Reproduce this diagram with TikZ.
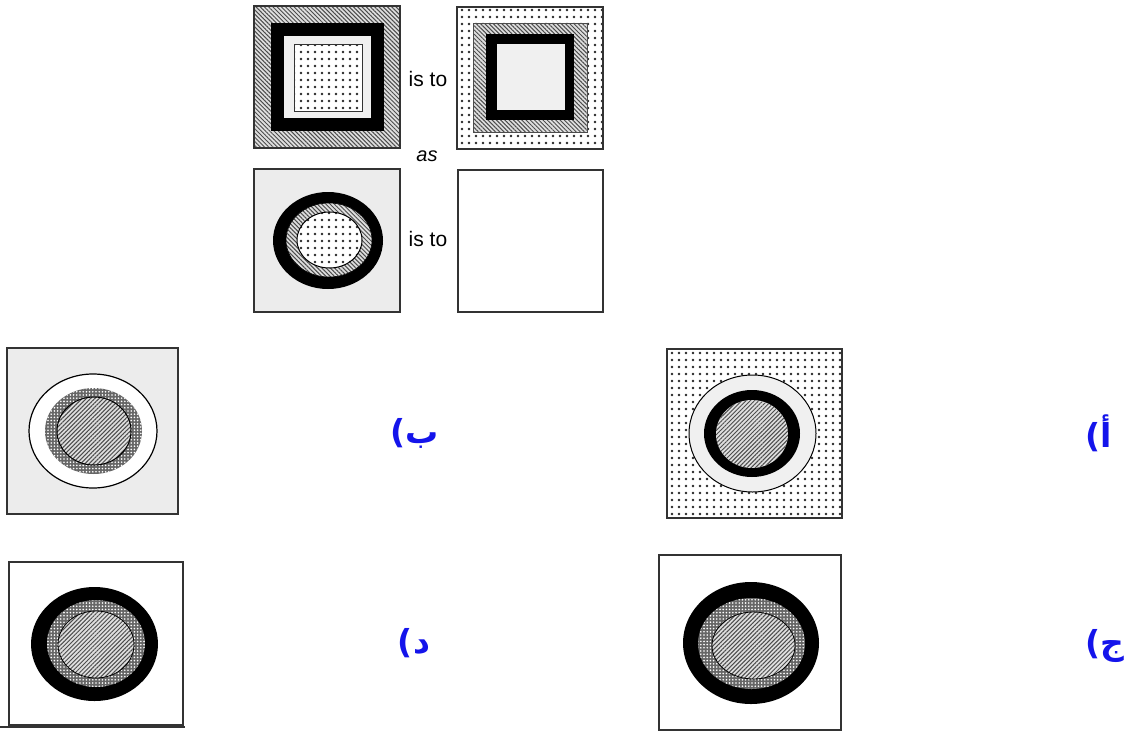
\documentclass[tikz,border=0pt]{standalone}
\usepackage{fontspec}
\setmainfont{Liberation Sans}
\newfontfamily\arabicfont[Script=Arabic]{DejaVu Sans}
\newfontfamily\parenfont{DejaVu Sans}
\TeXXeTstate=1
\usetikzlibrary{patterns.meta}
\definecolor{lblblue}{RGB}{20,20,235}
\tikzset{
  frame/.style={draw=black!80, line width=1.5pt},
  hatchNW/.style={preaction={fill=gray!25}, pattern={Lines[angle=-45,distance=3pt,line width=1pt]}, pattern color=black!70},
  hatchNE/.style={preaction={fill=gray!25}, pattern={Lines[angle=45,distance=3pt,line width=1pt]}, pattern color=black!70},
  dotsfill/.style={preaction={fill=white}, pattern={Dots[distance=7pt,radius=1.3pt]}, pattern color=black!85},
  stipple/.style={fill=gray!15},
  checker/.style={preaction={fill=black!60}, pattern={Dots[distance=3.2pt,radius=0.9pt]}, pattern color=white},
  istext/.style={font=\fontsize{21}{25}\selectfont, inner sep=0pt},
  lbl/.style={font=\bfseries\fontsize{33}{38}\selectfont, text=lblblue, inner sep=0pt}
}
\newcommand{\optlabel}[1]{\hbox{\parenfont\bfseries(}\hbox{\arabicfont\bfseries #1}}
\begin{document}
\begin{tikzpicture}[x=1pt,y=-1pt]
\useasboundingbox (0,0) rectangle (1126,731);
% top-left square
\path[hatchNW, frame] (254,6) rectangle (400,148);
\fill[black] (271,23) rectangle (384,131);
\fill[gray!12] (284,36) rectangle (371,118);
\path[dotsfill, draw=black!80, line width=1pt] (294,44) rectangle (362,111);
% top-right square
\path[dotsfill, frame] (457,7) rectangle (603,149);
\path[hatchNW, draw=black!70, line width=0.8pt] (473,23) rectangle (587,132);
\fill[black] (486,34) rectangle (574,120);
\fill[gray!12] (497,44) rectangle (565,110);
% texts
\node[istext] (isto1) at (428,79) {is to};
\node[istext, font=\fontsize{20}{24}\selectfont\itshape] (as) at (427,156) {as};
\node[istext] (isto2) at (428,239) {is to};
% bottom-left square
\path[stipple, frame] (254,169) rectangle (400,312);
\fill[black] (328,240.5) ellipse [x radius=55, y radius=48.5];
\path[hatchNW, draw=black, line width=0.6pt] (329,240) ellipse [x radius=43, y radius=37];
\path[dotsfill, draw=black, line width=1pt] (329.5,240) ellipse [x radius=32.5, y radius=28];
% empty answer square
\path[frame, fill=white] (458,170) rectangle (603,312);
% option b (left top)
\path[stipple, frame] (7,348) rectangle (178,514);
\path[fill=white, draw=black, line width=1.2pt] (93,431) ellipse [x radius=64, y radius=57];
\path[checker] (93.5,431) ellipse [x radius=48.5, y radius=43];
\path[hatchNE, draw=black, line width=1pt] (94,431) ellipse [x radius=37, y radius=34];
% option a (right top)
\path[dotsfill, frame] (667,349) rectangle (842,518);
\path[fill=gray!12, draw=black, line width=1pt] (752.5,433.5) ellipse [x radius=63.5, y radius=58.5];
\fill[black] (752,433.5) ellipse [x radius=48, y radius=43.5];
\path[hatchNE] (752,434) ellipse [x radius=36, y radius=34];
% option d (left bottom)
\path[frame, fill=white] (9,562) rectangle (183,725);
\draw[black!80, line width=2pt] (0,727) -- (185,727);
\fill[black] (94.5,644) ellipse [x radius=63.5, y radius=57];
\path[checker] (96,643.5) ellipse [x radius=49, y radius=43.5];
\path[hatchNE, draw=black, line width=0.8pt] (96,644.5) ellipse [x radius=38, y radius=33.5];
% option c (right bottom)
\path[frame, fill=white] (659,555) rectangle (841,730);
\fill[black] (751,643) ellipse [x radius=68, y radius=61];
\path[checker] (751.5,643.5) ellipse [x radius=53.5, y radius=45.5];
\path[hatchNE, draw=black, line width=0.8pt] (753.5,645.5) ellipse [x radius=41.5, y radius=33.5];
% labels
\node[lbl] (lb) at (415,433) {\optlabel{ب}};
\node[lbl] (la) at (1099,433) {\optlabel{أ}};
\node[lbl] (ld) at (414,643) {\optlabel{د}};
\node[lbl] (lc) at (1105,646) {\optlabel{ج}};
\end{tikzpicture}
\end{document}
